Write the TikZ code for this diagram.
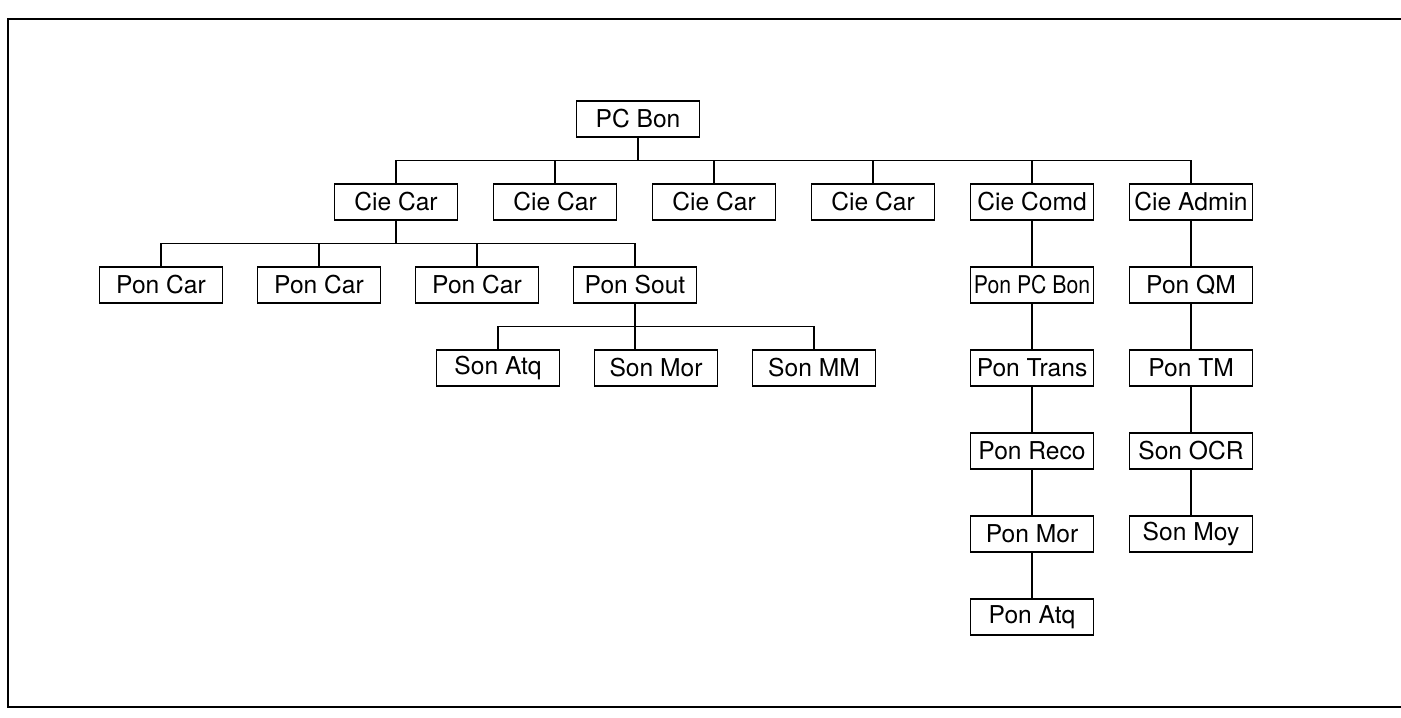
\documentclass[tikz,border=0pt]{standalone}
\usepackage{fontspec}
\setmainfont{TeX Gyre Heros}
\newfontfamily\narrowfont[FakeStretch=0.87]{TeX Gyre Heros}
\usetikzlibrary{positioning,calc}

\begin{document}
\begin{tikzpicture}[
  x=0.5pt,y=-0.5pt,
  unit/.style={rectangle,draw,line width=0.8pt,minimum width=61.5pt,minimum height=18pt,inner sep=1pt,font=\fontsize{12.3}{14}\selectfont},
  link/.style={line width=0.7pt,line cap=rect},
  node distance=22.7pt and 17.2pt
]
\useasboundingbox (0,0) rectangle (1401,717);
% frame, open on the right
\draw[line width=1.4pt] (1401,19) -- (8,19) -- (8,707) -- (1401,707);

% battalion and companies
\node[unit] (pcbon) at (638,119) {PC Bon};
\node[unit] (ciecar1) at (396,202) {Cie Car};
\node[unit,right=of ciecar1] (ciecar2) {Cie Car};
\node[unit,right=of ciecar2] (ciecar3) {Cie Car};
\node[unit,right=of ciecar3] (ciecar4) {Cie Car};
\node[unit,right=of ciecar4] (ciecomd) {Cie Comd};
\node[unit,right=of ciecomd] (cieadmin) {Cie Admin};

% platoons of the first company
\node[unit] (poncar1) at (161,285) {Pon Car};
\node[unit,right=16.7pt of poncar1] (poncar2) {Pon Car};
\node[unit,right=16.7pt of poncar2] (poncar3) {Pon Car};
\node[unit,right=16.7pt of poncar3] (ponsout) {Pon Sout};

% sections
\node[unit] (sonatq) at (498,368) {Son Atq};
\node[unit,right=16.7pt of sonatq] (sonmor) {Son Mor};
\node[unit,right=16.7pt of sonmor] (sonmm) {Son MM};

% command company
\node[unit,below=of ciecomd,font=\narrowfont\fontsize{12.2}{14}\selectfont] (ponpcbon) {Pon PC Bon};
\node[unit,below=of ponpcbon] (pontrans) {Pon Trans};
\node[unit,below=of pontrans] (ponreco) {Pon Reco};
\node[unit,below=of ponreco] (ponmor) {Pon Mor};
\node[unit,below=of ponmor] (ponatq) {Pon Atq};

% admin company
\node[unit,below=of cieadmin] (ponqm) {Pon QM};
\node[unit,below=of ponqm] (pontm) {Pon TM};
\node[unit,below=of pontm] (sonocr) {Son OCR};
\node[unit,below=of sonocr] (sonmoy) {Son Moy};

% buses
\coordinate (bustop) at ($(pcbon.south)!.5!(pcbon.south |- ciecar1.north)$);
\coordinate (buspon) at ($(ciecar1.south)!.5!(ciecar1.south |- poncar1.north)$);
\coordinate (busson) at ($(ponsout.south)!.5!(ponsout.south |- sonatq.north)$);

\draw[link] (pcbon.south) -- (pcbon.south |- bustop);
\draw[link] (ciecar1.north |- bustop) -- (cieadmin.north |- bustop);
\foreach \c in {ciecar1,ciecar2,ciecar3,ciecar4,ciecomd,cieadmin}
  \draw[link] (\c.north) -- (\c.north |- bustop);

\draw[link] (ciecar1.south) -- (ciecar1.south |- buspon);
\draw[link] (poncar1.north |- buspon) -- (ponsout.north |- buspon);
\foreach \c in {poncar1,poncar2,poncar3,ponsout}
  \draw[link] (\c.north) -- (\c.north |- buspon);

\draw[link] (ponsout.south) -- (ponsout.south |- sonmor.north);
\draw[link] (sonatq.north |- busson) -- (sonmm.north |- busson);
\foreach \c in {sonatq,sonmm}
  \draw[link] (\c.north) -- (\c.north |- busson);

% columns
\draw[link] (ciecomd) -- (ponpcbon);
\draw[link] (ponpcbon) -- (pontrans);
\draw[link] (pontrans) -- (ponreco);
\draw[link] (ponreco) -- (ponmor);
\draw[link] (ponmor) -- (ponatq);
\draw[link] (cieadmin) -- (ponqm);
\draw[link] (ponqm) -- (pontm);
\draw[link] (pontm) -- (sonocr);
\draw[link] (sonocr) -- (sonmoy);
\end{tikzpicture}
\end{document}
